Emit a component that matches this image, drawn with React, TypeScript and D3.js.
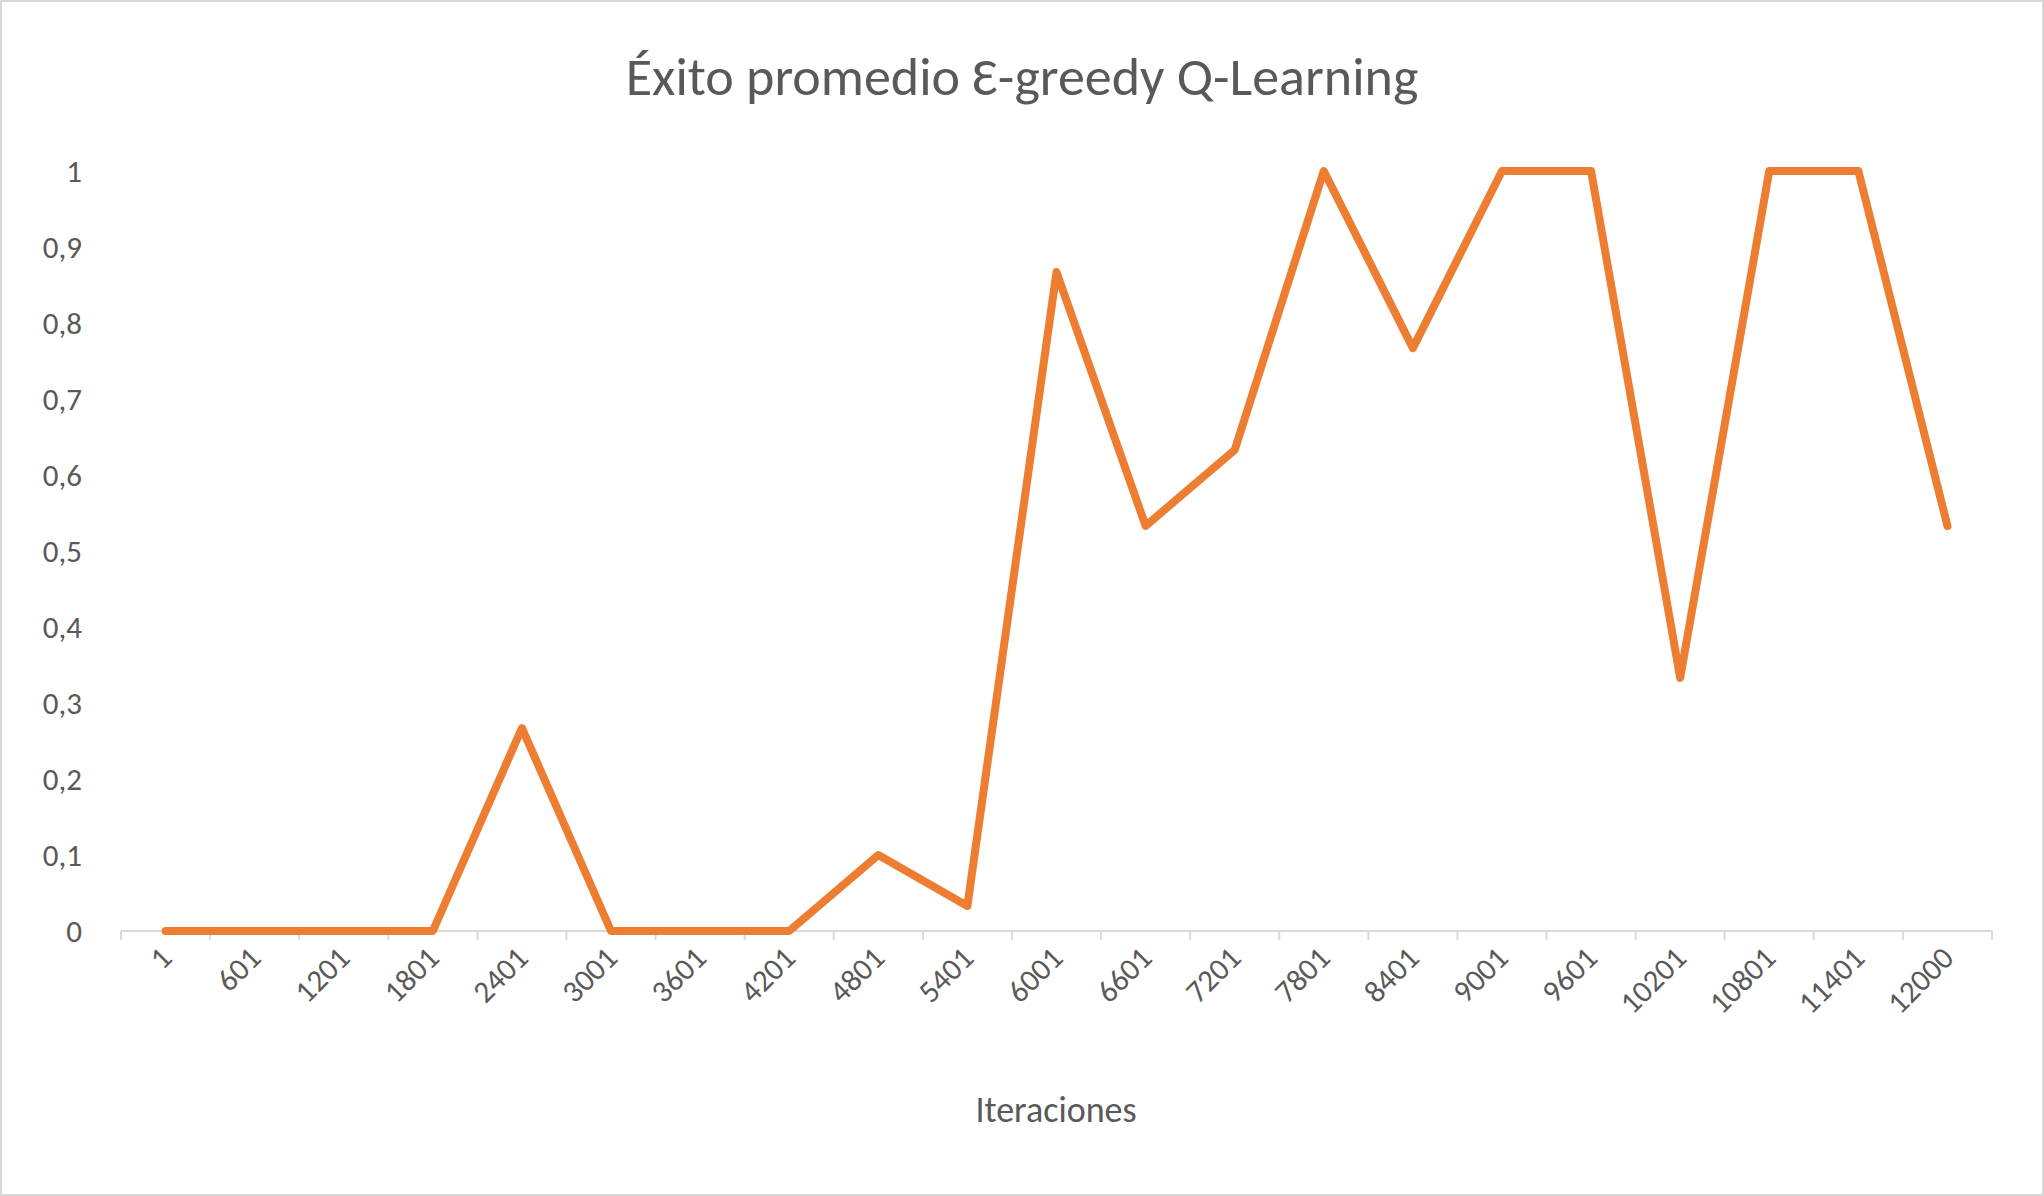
import React from "react";
import * as d3 from "d3";

const categories = ["1","601","1201","1801","2401","3001","3601","4201","4801","5401","6001","6601","7201","7801","8401","9001","9601","10201","10801","11401","12000"];
const values = [0,0,0,0,0.267,0,0,0,0.1,0.033,0.867,0.533,0.633,1,0.767,1,1,0.333,1,1,0.533];
const yTicks = [0,0.1,0.2,0.3,0.4,0.5,0.6,0.7,0.8,0.9,1];

export default function App() {
  const W = 2044, H = 1196;
  const x = d3.scaleBand<string>().domain(categories).range([121, 1992]);
  const y = d3.scaleLinear().domain([0, 1]).range([931, 171]);
  const line = d3.line<number>().x((_, i) => x(categories[i])! + x.bandwidth() / 2).y(d => y(d));
  const font = "Calibri, Carlito, 'Open Sans', sans-serif";
  const txt = "#595959";
  const bounds = [...categories.map(c => x(c)!), 1992];
  return (
    <svg width={W} height={H} style={{ position: "absolute", left: 0, top: 0 }} fontFamily={font}>
      <rect x={1} y={1} width={W - 2} height={H - 2} fill="#fff" stroke="#d9d9d9" strokeWidth={2} />
      <text x={1022} y={95} textAnchor="middle" fontSize={54} fill={txt}>Éxito promedio Ɛ-greedy Q-Learning</text>
      {yTicks.map(t => (
        <text key={t} x={82} y={y(t) + 11} textAnchor="end" fontSize={31} fill={txt}>{String(t).replace(".", ",")}</text>
      ))}
      <line x1={121} x2={1992} y1={931} y2={931} stroke="#d9d9d9" strokeWidth={2} />
      {bounds.map((b, i) => <line key={i} x1={b} x2={b} y1={931} y2={940} stroke="#d9d9d9" strokeWidth={2} />)}
      {categories.map(c => {
        const cx = x(c)! + x.bandwidth() / 2 + 8;
        return <text key={c} transform={`translate(${cx},${960}) rotate(-45)`} textAnchor="end" fontSize={31} fill={txt}>{c}</text>;
      })}
      <path d={line(values)!} fill="none" stroke="#ED7D31" strokeWidth={8} strokeLinejoin="round" strokeLinecap="round" />
      <text x={1056} y={1122} textAnchor="middle" fontSize={36} fill={txt}>Iteraciones</text>
    </svg>
  );
}
